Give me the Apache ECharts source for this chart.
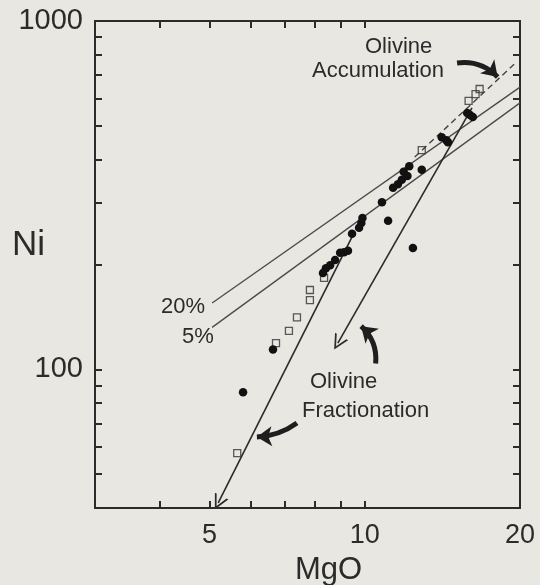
<!DOCTYPE html>
<html><head><meta charset="utf-8">
<script src="https://cdn.jsdelivr.net/npm/echarts@6/dist/echarts.min.js"></script>
<style>html,body{margin:0;padding:0;background:#e8e7e2;} #c{width:540px;height:585px;}</style>
</head><body><div id="c"></div>
<script>
// axis ticks and labels
const xTicks = [3,4,5,6,7,8,9,10,20];
const xLabels = [5,10,20];
const yTicks = [40,50,60,70,80,90,100,200,300,400,500,600,700,800,900,1000];
const yLabels = [100,1000];

// samples (filled circles / open squares)
const filledMgO = [15.8,16.0,16.2,14.1,14.4,14.5,12.9,12.2,11.9,12.1,11.8,11.6,11.35,10.8,11.1,9.9,9.85,9.75,9.45,8.96,9.12,9.28,8.76,8.57,8.41,8.30,12.4,6.64,5.81];
const filledNi  = [544,537,530,464,455,449,374,383,369,359,350,340,332,302,267,272,263,255,245,216,217,219,206,199,195,189,223,114,86];
const openMgO = [16.7,16.4,15.9,12.9,8.34,7.83,7.83,7.39,7.13,6.73,5.66];
const openNi  = [638,617,590,426,183,169,158,141,129,119,57.5];

// model lines: [start, end]
const mix20MgO = [5.06, 20],  mix20Ni = [155, 646];
const mix5MgO  = [5.06, 20],  mix5Ni  = [132, 582];
const fracAMgO = [16.14, 8.87], fracANi = [563, 119];
const fracBMgO = [9.45, 5.20],  fracBNi = [240, 41.4];
const accumMgO = [12.5, 19.7],  accumNi = [407, 763];
// curved pointer arrows: [start, end]
const ptrAccumMgO = [15.1, 18.1], ptrAccumNi = [758, 691];
const ptrFracAMgO = [10.5, 9.84], ptrFracANi = [104, 133];
const ptrFracBMgO = [7.39, 6.18], ptrFracBNi = [70.2, 64.0];

const ink = '#2b2b2b';
const FONT = '"Liberation Sans", Arial, sans-serif';
const chevron = 'path://M5,0 L10,10 L8.7,10 L5,2.6 L1.3,10 L0,10 Z';

function pair(xs, ys){ return xs.map((x,i)=>[x, ys[i]]); }

const baseAxis = {
  type: 'log', logBase: 10,
  axisLine: {show: true, lineStyle: {color: ink, width: 2}},
  splitLine: {show: false},
  minorTick: {show: false}
};
const xAxisCommon = Object.assign({}, baseAxis, {min: 3, max: 20});
const yAxisCommon = Object.assign({}, baseAxis, {min: 40, max: 1000});

const chart = echarts.init(document.getElementById('c'), null, {renderer: 'canvas'});
chart.setOption({
  backgroundColor: '#e8e7e2',
  animation: false,
  grid: {left: 95, right: 20, top: 21, bottom: 77, outerBoundsMode: 'none', containLabel: false},
  xAxis: [
    Object.assign({}, xAxisCommon, {
      position: 'bottom',
      axisTick: {show: true, inside: true, length: 7, customValues: xTicks, lineStyle: {color: ink, width: 2}},
      axisLabel: {show: true, customValues: xLabels, margin: 14, fontSize: 27, color: ink, fontFamily: FONT,
                  formatter: v => String(v), showMinLabel: true, showMaxLabel: true}
    }),
    Object.assign({}, xAxisCommon, {
      position: 'top',
      axisTick: {show: true, inside: true, length: 7, customValues: xTicks, lineStyle: {color: ink, width: 2}},
      axisLabel: {show: false}
    })
  ],
  yAxis: [
    Object.assign({}, yAxisCommon, {
      position: 'left',
      axisTick: {show: true, inside: true, length: 7, customValues: yTicks, lineStyle: {color: ink, width: 2}},
      axisLabel: {show: true, customValues: yLabels, margin: 12, fontSize: 29, color: ink, fontFamily: FONT,
                  formatter: v => String(v), showMinLabel: true, showMaxLabel: true}
    }),
    Object.assign({}, yAxisCommon, {
      position: 'right',
      axisTick: {show: true, inside: true, length: 7, customValues: yTicks, lineStyle: {color: ink, width: 2}},
      axisLabel: {show: false}
    })
  ],
  series: [
    {type: 'line', data: pair(mix20MgO, mix20Ni), symbol: 'none', lineStyle: {color: '#4a4a4a', width: 1.3}, z: 2},
    {type: 'line', data: pair(mix5MgO, mix5Ni), symbol: 'none', lineStyle: {color: '#4a4a4a', width: 1.3}, z: 2},
    {type: 'line', data: pair(accumMgO, accumNi), symbol: 'none', lineStyle: {color: '#444', width: 1.4, type: [6,4]}, z: 2},
    {type: 'lines', coordinateSystem: 'cartesian2d', polyline: false,
     symbol: ['none', chevron], symbolSize: [11, 15],
     lineStyle: {color: ink, width: 1.6, opacity: 1},
     data: [{coords: pair(fracAMgO, fracANi)}, {coords: pair(fracBMgO, fracBNi)}], z: 3},
    {type: 'lines', coordinateSystem: 'cartesian2d',
     symbol: ['none', 'arrow'], symbolSize: [15, 15],
     lineStyle: {color: '#1e1e1e', width: 5, opacity: 1},
     data: [
       {coords: pair(ptrAccumMgO, ptrAccumNi), lineStyle: {curveness: 0.25}},
       {coords: pair(ptrFracAMgO, ptrFracANi), lineStyle: {curveness: -0.25}},
       {coords: pair(ptrFracBMgO, ptrFracBNi), lineStyle: {curveness: 0.15}}
     ], z: 3},
    {type: 'scatter', data: pair(openMgO, openNi), symbol: 'rect', symbolSize: 7,
     itemStyle: {color: 'rgba(0,0,0,0)', borderColor: '#333', borderWidth: 1.3}, z: 4},
    {type: 'scatter', data: pair(filledMgO, filledNi), symbol: 'circle', symbolSize: 8.5,
     itemStyle: {color: '#111', opacity: 1}, z: 5}
  ],
  graphic: [
    {type: 'text', left: 12, top: 228, style: {text: 'Ni', fontSize: 35, fill: ink, fontFamily: FONT}},
    {type: 'text', left: 295, top: 555, style: {text: 'MgO', fontSize: 31, fill: ink, fontFamily: FONT}},
    {type: 'text', left: 365, top: 36, style: {text: 'Olivine', fontSize: 22, fill: ink, fontFamily: FONT}},
    {type: 'text', left: 312, top: 60, style: {text: 'Accumulation', fontSize: 22, fill: ink, fontFamily: FONT}},
    {type: 'text', left: 310, top: 371, style: {text: 'Olivine', fontSize: 22, fill: ink, fontFamily: FONT}},
    {type: 'text', left: 302, top: 400, style: {text: 'Fractionation', fontSize: 22, fill: ink, fontFamily: FONT}},
    {type: 'text', left: 161, top: 296, style: {text: '20%', fontSize: 22, fill: ink, fontFamily: FONT}},
    {type: 'text', left: 182, top: 326, style: {text: '5%', fontSize: 22, fill: ink, fontFamily: FONT}}
  ]
});
</script></body></html>
